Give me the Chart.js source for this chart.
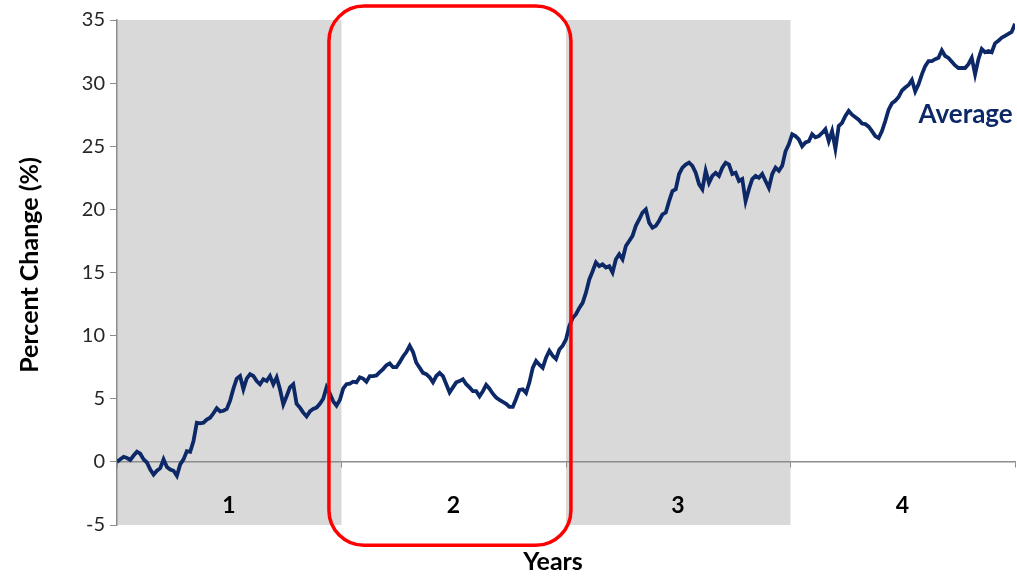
<!DOCTYPE html>
<html>
<head>
<meta charset="utf-8">
<script src="https://cdn.jsdelivr.net/npm/chart.js@4.4.1/dist/chart.umd.min.js"></script>
<style>
  html, body { margin: 0; padding: 0; background: #ffffff; }
  canvas { display: block; }
</style>
</head>
<body>
<canvas id="chart" width="1017" height="576"></canvas>
<script>
// Year bands along the x axis (one unit = one year)
const yearLabels = ['1', '2', '3', '4'];
const shadedYears = [0, 2];

// Y axis range, in percent
const yMin = -5;
const yMax = 35;
const yStep = 5;

// Average cumulative percent change, sampled at even steps over the four years
const averageChange = [
  0.0, 0.2, 0.4, 0.3, 0.15, 0.5, 0.8, 0.65, 0.2, -0.05,
  -0.6, -1.0, -0.7, -0.5, 0.2, -0.4, -0.6, -0.7, -1.1, -0.2,
  0.2, 0.85, 0.8, 1.65, 3.1, 3.05, 3.1, 3.35, 3.5, 3.85,
  4.25, 4.0, 4.05, 4.2, 4.85, 5.8, 6.6, 6.8, 5.75, 6.6,
  6.95, 6.8, 6.4, 6.15, 6.55, 6.4, 6.8, 6.15, 6.7, 5.75,
  4.55, 5.2, 5.9, 6.15,
  4.6, 4.3, 3.9, 3.6, 4.0, 4.2, 4.3, 4.6, 5.0, 5.9,
  5.4, 4.8, 4.45, 4.9, 5.8, 6.15, 6.2, 6.35, 6.3, 6.7,
  6.6, 6.35, 6.8, 6.8, 6.85, 7.1, 7.35, 7.65, 7.8, 7.5,
  7.5, 7.9, 8.35, 8.7, 9.2, 8.7, 7.85, 7.45, 7.05, 6.95,
  6.7, 6.3, 6.8, 7.05, 6.8, 6.15, 5.5, 5.9, 6.3, 6.4,
  6.55, 6.15, 5.9, 5.6,
  5.6, 5.2, 5.6, 6.1, 5.8, 5.4, 5.1, 4.9, 4.75, 4.6,
  4.35, 4.35, 5.0, 5.7, 5.75, 5.45, 6.3, 7.45, 8.0, 7.7,
  7.45, 8.25, 8.8, 8.4, 8.15, 8.9, 9.2, 9.7, 10.75, 11.4,
  11.7, 12.2, 12.6, 13.4, 14.45, 15.1, 15.8, 15.5, 15.65, 15.4,
  15.5, 15.0, 16.05, 16.45, 16.05, 17.1, 17.5, 17.9, 18.7, 19.2,
  19.75, 20.0, 18.95, 18.55,
  18.7, 19.1, 19.6, 19.75, 20.65, 21.45, 21.6, 22.8, 23.3, 23.55,
  23.7, 23.45, 22.9, 22.0, 21.6, 23.05, 22.1, 22.65, 22.9, 22.65,
  23.3, 23.7, 23.55, 22.8, 22.9, 22.25, 22.4, 20.65, 21.6, 22.4,
  22.65, 22.5, 22.8, 22.25, 21.7, 22.8, 23.3, 23.05, 23.45, 24.6,
  25.15, 25.95, 25.8, 25.55, 25.0, 25.3, 25.4, 25.95, 25.7, 25.8,
  26.05, 26.35, 25.4, 26.2,
  24.8, 26.6, 26.85, 27.4, 27.8, 27.5, 27.3, 27.1, 26.8, 26.75,
  26.55, 26.2, 25.8, 25.65, 26.2, 27.0, 27.9, 28.4, 28.6, 28.9,
  29.4, 29.65, 29.85, 30.25, 29.35, 29.9, 30.7, 31.35, 31.75, 31.75,
  31.9, 32.0, 32.6, 32.15, 32.0, 31.7, 31.4, 31.2, 31.2, 31.2,
  31.5, 32.0, 30.7, 31.9, 32.7, 32.45, 32.55, 32.45, 33.15, 33.35,
  33.6, 33.75, 33.9, 34.05, 34.7
];

// Highlighted stretch (years) and its vertical extent (percent)
const highlightYears = [0.944, 2.022];
const highlightRange = [-6.6, 36.1];

// Series name and where it is written (year, percent)
const seriesName = 'Average';
const seriesNameAt = [3.78, 27.5];

const NAVY = '#0c2867';
const AXIS_GREY = '#8c8c8c';
const FONT = 'Lato, "Open Sans", sans-serif';

const years = yearLabels.length;
const points = averageChange.map((v, i) => ({ x: i * years / (averageChange.length - 1), y: v }));

const decorations = {
  id: 'decorations',
  beforeDraw(chart) {
    const { ctx, chartArea: a, scales: { x } } = chart;
    ctx.save();
    ctx.fillStyle = '#ffffff';
    ctx.fillRect(0, 0, chart.width, chart.height);
    ctx.fillStyle = '#d9d9d9';
    shadedYears.forEach(i => {
      const l = x.getPixelForValue(i);
      const r = x.getPixelForValue(i + 1);
      ctx.fillRect(l, a.top, r - l, a.bottom - a.top);
    });
    ctx.restore();
  },
  afterDatasetsDraw(chart) {
    const { ctx, scales: { x, y } } = chart;
    const l = x.getPixelForValue(highlightYears[0]);
    const r = x.getPixelForValue(highlightYears[1]);
    const t = y.getPixelForValue(highlightRange[1]);
    const b = y.getPixelForValue(highlightRange[0]);
    ctx.save();
    ctx.strokeStyle = '#ff0000';
    ctx.lineWidth = 3.5;
    ctx.beginPath();
    ctx.roundRect(l, t, r - l, b - t, 35);
    ctx.stroke();
    ctx.restore();
  },
  afterDraw(chart) {
    const { ctx, scales: { x, y } } = chart;
    ctx.save();
    ctx.fillStyle = '#000000';
    ctx.font = 'bold 25px ' + FONT;
    ctx.textAlign = 'center';
    ctx.textBaseline = 'middle';
    // Axis titles
    ctx.fillText('Years', 553, 562);
    ctx.translate(30, 265);
    ctx.rotate(-Math.PI / 2);
    ctx.fillText('Percent Change (%)', 0, 0);
    ctx.restore();

    ctx.save();
    ctx.fillStyle = NAVY;
    ctx.font = 'bold 26px ' + FONT;
    ctx.textAlign = 'center';
    ctx.textBaseline = 'middle';
    ctx.fillText(seriesName, x.getPixelForValue(seriesNameAt[0]), y.getPixelForValue(seriesNameAt[1]));
    ctx.restore();
  }
};

new Chart(document.getElementById('chart'), {
  type: 'line',
  data: {
    datasets: [{
      label: seriesName,
      data: points,
      borderColor: NAVY,
      borderWidth: 3.8,
      pointRadius: 0,
      tension: 0,
      fill: false
    }]
  },
  options: {
    responsive: false,
    animation: false,
    devicePixelRatio: 1,
    layout: { padding: { top: 20, right: 2, bottom: 51, left: 0 } },
    plugins: {
      legend: { display: false },
      tooltip: { enabled: false }
    },
    scales: {
      x: {
        type: 'linear',
        min: 0,
        max: years,
        position: { y: 0 },
        ticks: {
          stepSize: 1,
          autoSkip: false,
          maxRotation: 0,
          labelOffset: 112,
          padding: 25,
          color: '#000000',
          font: { family: FONT, size: 23, weight: 'bold' },
          callback: v => yearLabels[v] ?? ''
        },
        grid: { drawOnChartArea: false, drawTicks: true, tickLength: 5, color: AXIS_GREY },
        border: { display: true, color: AXIS_GREY, width: 1.5 },
        afterFit(scale) { scale.paddingLeft = 0; scale.paddingRight = 0; }
      },
      y: {
        min: yMin,
        max: yMax,
        ticks: {
          stepSize: yStep,
          padding: 5,
          color: '#262626',
          font: { family: FONT, size: 20 }
        },
        grid: { drawOnChartArea: false, drawTicks: true, tickLength: 7, color: AXIS_GREY },
        border: { display: true, color: AXIS_GREY, width: 1.5 },
        afterFit(scale) { scale.width = 117; }
      }
    }
  },
  plugins: [decorations]
});
</script>
</body>
</html>
